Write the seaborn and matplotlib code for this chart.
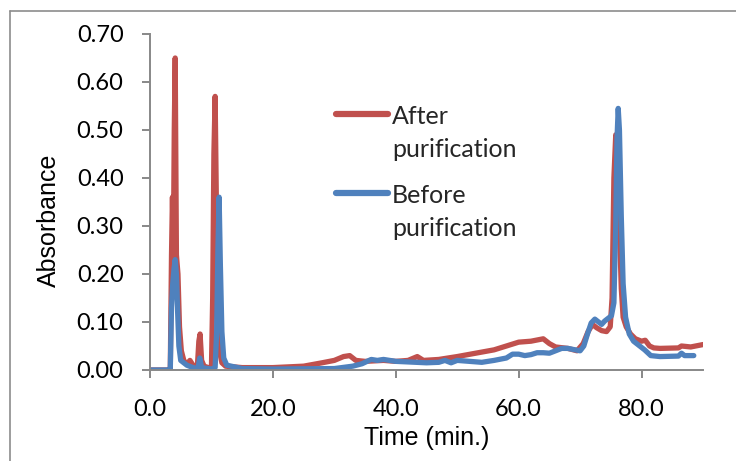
import matplotlib
matplotlib.use("Agg")
import matplotlib.pyplot as plt
import pandas as pd
import seaborn as sns
from matplotlib.lines import Line2D

# chromatogram traces (time in min, absorbance)
after_time = [0.0, 3.0, 3.3, 3.5, 3.65, 3.8, 3.95, 4.1, 4.3, 4.55, 4.8, 5.1, 5.5, 6.0, 6.5, 7.0,
              7.7, 7.95, 8.15, 8.4, 8.8, 9.5, 10.0, 10.2, 10.4, 10.6, 10.8, 11.0, 11.3, 11.7, 12.3, 15.0,
              20.0, 25.0, 28.0, 30.0, 31.5, 32.5, 33.5, 35.0, 38.0, 40.0, 42.0, 43.5,
              44.5, 47.0, 50.0, 53.0, 56.0, 58.0, 60.0, 62.0, 64.0, 65.0, 66.0, 68.0,
              69.5, 70.5, 71.3, 72.0, 72.7, 73.5, 74.3, 74.9, 75.2, 75.5, 75.8, 76.1, 76.4, 76.7,
              77.0, 77.5, 78.2, 79.0, 80.0, 80.6, 81.3, 82.0, 83.0, 86.0, 86.5, 88.0, 90.0]
after_abs = [0.0, 0.0, 0.0, 0.24, 0.36, 0.24, 0.50, 0.65, 0.24, 0.20, 0.09, 0.04, 0.02, 0.012, 0.02, 0.01,
             0.005, 0.06, 0.075, 0.02, 0.008, 0.005, 0.005, 0.15, 0.45, 0.57, 0.35, 0.12, 0.04, 0.015, 0.008, 0.005,
             0.005, 0.008, 0.015, 0.02, 0.028, 0.030, 0.020, 0.018, 0.020, 0.018, 0.020, 0.028,
             0.020, 0.022, 0.028, 0.035, 0.042, 0.050, 0.058, 0.060, 0.065, 0.055, 0.048, 0.045,
             0.040, 0.055, 0.080, 0.095, 0.088, 0.082, 0.080, 0.090, 0.15, 0.40, 0.49, 0.47, 0.30, 0.17,
             0.11, 0.090, 0.075, 0.065, 0.060, 0.062, 0.050, 0.046, 0.045, 0.046, 0.050, 0.048, 0.053]

before_time = [0.0, 3.0, 3.3, 3.5, 3.7, 3.9, 4.1, 4.3, 4.5, 4.7, 5.0, 6.0, 7.0, 7.8, 8.1, 8.4,
               10.0, 10.6, 10.85, 11.05, 11.25, 11.45, 11.7, 12.0, 12.5, 15.0, 20.0, 30.0, 33.0, 34.5,
               36.0, 37.0, 38.0, 40.0, 45.0, 47.0, 48.0, 49.0, 50.0, 52.0, 54.0, 56.0,
               58.0, 59.0, 60.0, 61.0, 62.0, 63.0, 64.0, 65.0, 66.0, 67.0, 68.0, 70.0,
               70.6, 71.2, 71.8, 72.4, 73.0, 73.5, 74.0, 74.6, 75.1, 75.5, 75.8, 76.0, 76.2, 76.4,
               76.7, 77.0, 77.4, 78.0, 78.7, 79.5, 80.5, 81.5, 83.0, 86.0, 86.5, 87.0, 88.5]
before_abs = [0.0, 0.0, 0.0, 0.13, 0.18, 0.21, 0.23, 0.20, 0.12, 0.05, 0.02, 0.01, 0.005, 0.003, 0.025, 0.005,
              0.002, 0.005, 0.08, 0.25, 0.36, 0.22, 0.08, 0.025, 0.01, 0.003, 0.002, 0.003, 0.008, 0.013,
              0.022, 0.020, 0.022, 0.018, 0.015, 0.016, 0.020, 0.015, 0.020, 0.018, 0.016, 0.020,
              0.025, 0.033, 0.033, 0.030, 0.032, 0.036, 0.036, 0.035, 0.040, 0.045, 0.045, 0.040,
              0.050, 0.075, 0.098, 0.106, 0.100, 0.095, 0.102, 0.108, 0.113, 0.14, 0.30, 0.48, 0.545, 0.50,
              0.32, 0.18, 0.11, 0.075, 0.060, 0.052, 0.042, 0.030, 0.028, 0.029, 0.035, 0.030, 0.030]

labels = ["After\npurification", "Before\npurification"]
colors = ["#C0504D", "#4F81BD"]

sns.set_theme(style="white")

df = pd.concat([
    pd.DataFrame({"time": after_time, "abs": after_abs, "series": labels[0]}),
    pd.DataFrame({"time": before_time, "abs": before_abs, "series": labels[1]}),
])

fig = plt.figure(figsize=(7.36, 4.61), dpi=100)
ax = fig.add_axes([150 / 736, 1 - 370 / 461, 553 / 736, 336 / 461])
sns.lineplot(data=df, x="time", y="abs", hue="series", palette=dict(zip(labels, colors)),
             estimator=None, sort=False, linewidth=3.8, ax=ax)
for ln in ax.get_lines():
    ln.set_solid_joinstyle("round")
    ln.set_solid_capstyle("round")

ax.set_xlim(0, 90)
ax.set_ylim(0, 0.70)
ax.set_xticks([0, 20, 40, 60, 80])
ax.set_xticklabels([f"{v:.1f}" for v in [0, 20, 40, 60, 80]])
ax.set_yticks([i / 10 for i in range(8)])
ax.set_yticklabels([f"{i / 10:.2f}" for i in range(8)])
for lab in ax.get_xticklabels() + ax.get_yticklabels():
    lab.set_family("Lato")
    lab.set_fontsize(17)
    lab.set_color("black")

for side in ["top", "right"]:
    ax.spines[side].set_visible(False)
for side in ["left", "bottom"]:
    ax.spines[side].set_color("#888888")
    ax.spines[side].set_linewidth(1.4)
ax.tick_params(axis="both", direction="out", length=6, width=1.4, color="#888888", left=True, bottom=True)
ax.tick_params(axis="x", pad=15)
ax.tick_params(axis="y", pad=13)

ax.set_xlabel("Time (min.)", family="Liberation Sans", fontsize=18, color="black")
ax.set_ylabel("Absorbance", family="Liberation Sans", fontsize=18, color="black")
ax.xaxis.set_label_coords(0.5, -(426 - 370) / 336)
ax.yaxis.set_label_coords(-(150 - 61) / 553, (370 - 220) / 336)

handles, _ = ax.get_legend_handles_labels()
leg = ax.legend(handles=handles[:2], labels=labels, loc="upper left", bbox_to_anchor=(0.295, 0.855),
                frameon=False, handlelength=2.1, handletextpad=0.15, labelspacing=0.95,
                prop={"family": "Lato", "size": 18})
for h in leg.legend_handles:
    h.set_linewidth(4.5)
    h.set_solid_capstyle("round")
for t in leg.get_texts():
    t.set_linespacing(1.5)
# put each handle level with the first line of its label
for col in leg._legend_handle_box.get_children():
    for item in col.get_children():
        item.align = "top"

# chart-area border (top and left edges visible in the reference)
fig.add_artist(Line2D([10 / 736, 10 / 736], [0, 1 - 11 / 461], transform=fig.transFigure, color="#8C8C8C", lw=1.2))
fig.add_artist(Line2D([10 / 736, 1], [1 - 11 / 461, 1 - 11 / 461], transform=fig.transFigure, color="#8C8C8C", lw=1.2))

fig.savefig("out.png", dpi=100)
